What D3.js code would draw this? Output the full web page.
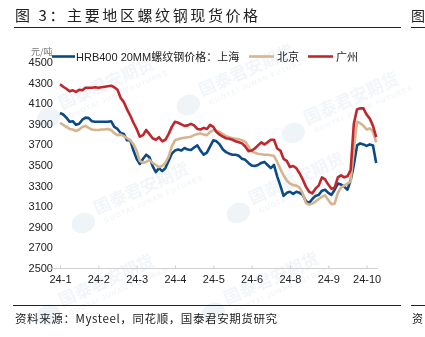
<!DOCTYPE html>
<html>
<head>
<meta charset="utf-8">
<script src="https://cdn.jsdelivr.net/npm/d3@7"></script>
<style>
  html, body { margin: 0; padding: 0; background: #fff; }
  svg { display: block; }
</style>
</head>
<body>
<svg id="chart" width="425" height="337"></svg>
<script>
// Rebar (HRB400 20mm) spot prices, yuan/ton, trading-day samples Jan–Oct 2024
const tickLabels = ["24-1", "24-2", "24-3", "24-4", "24-5", "24-6", "24-8", "24-9", "24-10"];
const tickStep = 12; // one axis label every 12 samples
const yTicks = [2500, 2700, 2900, 3100, 3300, 3500, 3700, 3900, 4100, 4300, 4500];

const seriesNames = ["HRB400 20MM螺纹钢价格：上海", "北京", "广州"];

const shanghai = [
  4005, 3990, 3960, 3920, 3925, 3890, 3900, 3940, 3960, 3955,
  3925, 3920, 3920, 3920, 3920, 3920, 3925, 3870, 3850, 3810,
  3800, 3740, 3740, 3640, 3560, 3510, 3560, 3600, 3575, 3490,
  3430, 3470, 3440, 3470, 3540, 3610, 3640, 3650, 3640, 3665,
  3650, 3645, 3670, 3690, 3640, 3600, 3620, 3680, 3740, 3730,
  3700, 3650, 3625, 3610, 3600, 3600, 3590, 3560, 3550, 3520,
  3495, 3490, 3500, 3520, 3530, 3500, 3470, 3500, 3390, 3300,
  3200, 3230, 3240, 3220, 3240, 3230, 3210, 3150, 3130, 3170,
  3200, 3210, 3250, 3260, 3230, 3210, 3260, 3320, 3310, 3290,
  3260, 3350, 3500, 3690, 3710, 3700, 3685, 3700, 3690, 3520
];

const beijing = [
  3910, 3890, 3870, 3850, 3845, 3830, 3845, 3870, 3880, 3860,
  3845, 3840, 3840, 3845, 3845, 3850, 3840, 3810, 3790, 3795,
  3780, 3760, 3740, 3700, 3640, 3540, 3520, 3530, 3550, 3520,
  3500, 3480, 3490, 3520, 3580, 3680, 3740, 3750, 3760, 3765,
  3770, 3775, 3790, 3800, 3805, 3795, 3790, 3820, 3840, 3830,
  3820, 3800, 3780, 3770, 3760, 3755, 3750, 3740, 3725, 3680,
  3630, 3620, 3610, 3605, 3600, 3600, 3595, 3590, 3530, 3460,
  3400, 3350, 3320, 3305, 3300, 3280, 3225, 3130, 3115, 3125,
  3145, 3170, 3190, 3205, 3160, 3120, 3125, 3230, 3280, 3300,
  3320, 3340, 3650, 3920, 3905, 3880, 3845, 3855, 3825, 3720
];

const guangzhou = [
  4285, 4260, 4240, 4215, 4225, 4210, 4230, 4225, 4250, 4250,
  4250, 4255, 4250, 4255, 4260, 4265, 4270, 4255, 4230, 4150,
  4110, 4040, 3980, 3910, 3850, 3775, 3790, 3840, 3800, 3760,
  3745, 3770, 3730, 3745, 3800, 3870, 3920, 3910, 3895, 3880,
  3885, 3900, 3885, 3850, 3845, 3860, 3850, 3890, 3870, 3820,
  3795, 3775, 3760, 3755, 3745, 3730, 3720, 3710, 3680, 3635,
  3640, 3660, 3690, 3720, 3700, 3720, 3745, 3745, 3660, 3640,
  3560, 3540, 3480, 3490, 3470, 3420, 3360, 3290, 3240, 3225,
  3270, 3300, 3380, 3360, 3310, 3270, 3280, 3380, 3400, 3380,
  3390, 3450, 3900, 4040, 4050, 4050, 3990, 3950, 3880, 3770
];

const colors = ["#0b4a86", "#d6b48e", "#c0272d"];
const seriesValues = [shanghai, beijing, guangzhou];

// Faint brand watermark tiles
const watermarkSpots = [[95, 95], [235, 82], [130, 200], [285, 190], [340, 110], [95, 292], [260, 290]];

const svg = d3.select("#chart");
const cjk = "'Noto Sans CJK SC', 'Noto Sans', sans-serif";
const latin = "'Liberation Sans', Arial, sans-serif";

// watermarks
const wm = svg.append("g").attr("class", "watermark").attr("opacity", 0.45);
watermarkSpots.forEach(([cx, cy]) => {
  const g = wm.append("g").attr("transform", `translate(${cx},${cy}) rotate(-24)`);
  g.append("ellipse").attr("cx", -52).attr("cy", 2).attr("rx", 12).attr("ry", 10)
    .attr("fill", "#dbe6f1");
  g.append("text").attr("x", -36).attr("y", 0).attr("font-family", cjk)
    .attr("font-size", 17).attr("font-weight", 700).attr("fill", "#e1e9f2")
    .text("国泰君安期货");
  g.append("text").attr("x", -32).attr("y", 11).attr("font-family", latin)
    .attr("font-size", 7).attr("font-weight", 700).attr("letter-spacing", 1)
    .attr("fill", "#e1e9f2")
    .text("GUOTAI JUNAN FUTURES");
});

// title and rules
svg.append("text").attr("x", 15).attr("y", 21).attr("font-family", cjk)
  .attr("font-size", 15).attr("letter-spacing", 2.6).attr("fill", "#222")
  .text("图 3：主要地区螺纹钢现货价格");
svg.append("text").attr("x", 411).attr("y", 21).attr("font-family", cjk)
  .attr("font-size", 14).attr("fill", "#222").text("图");
svg.append("line").attr("x1", 14).attr("x2", 401).attr("y1", 27.5).attr("y2", 27.5)
  .attr("stroke", "#222").attr("stroke-width", 1);
svg.append("line").attr("x1", 411).attr("x2", 425).attr("y1", 27.5).attr("y2", 27.5)
  .attr("stroke", "#222").attr("stroke-width", 1);
svg.append("line").attr("x1", 13).attr("x2", 401).attr("y1", 305.5).attr("y2", 305.5)
  .attr("stroke", "#222").attr("stroke-width", 1);
svg.append("line").attr("x1", 411).attr("x2", 425).attr("y1", 305.5).attr("y2", 305.5)
  .attr("stroke", "#222").attr("stroke-width", 1);
svg.append("text").attr("x", 15).attr("y", 323).attr("font-family", cjk)
  .attr("font-size", 11.5).attr("letter-spacing", 0.6).attr("fill", "#222")
  .text("资料来源：Mysteel，同花顺，国泰君安期货研究");
svg.append("text").attr("x", 412).attr("y", 323).attr("font-family", cjk)
  .attr("font-size", 11).attr("fill", "#222").text("资");

// scales
const n = shanghai.length;
const x = d3.scaleLinear().domain([0, tickStep * (tickLabels.length - 1)]).range([60, 366.6]);
const y = d3.scaleLinear().domain([2500, 4500]).range([268, 62]);

// y axis (labels only)
const yAxis = svg.append("g").attr("transform", "translate(56,0)")
  .call(d3.axisLeft(y).tickValues(yTicks).tickSize(0).tickPadding(3).tickFormat(d3.format("d")));
yAxis.select(".domain").remove();
yAxis.selectAll("text").attr("font-family", latin).attr("font-size", 11).attr("fill", "#222");

// x axis
const xAxis = svg.append("g").attr("transform", `translate(0,${y(2500)})`)
  .call(d3.axisBottom(x)
    .tickValues(tickLabels.map((_, i) => i * tickStep))
    .tickFormat((d, i) => tickLabels[i])
    .tickSizeInner(-3).tickSizeOuter(0).tickPadding(7));
xAxis.select(".domain").remove();
xAxis.insert("line", ":first-child")
  .attr("x1", x(0) - 12).attr("x2", x(n - 1) + 1.5).attr("y1", 0.5).attr("y2", 0.5)
  .attr("stroke", "#d0d0d0").attr("stroke-width", 1);
xAxis.selectAll(".tick line").attr("stroke", "#d0d0d0").attr("transform", "translate(0,0.5)");
xAxis.selectAll("text").attr("font-family", latin).attr("font-size", 11).attr("fill", "#222");

// lines
const line = d3.line().x((d, i) => x(i)).y(d => y(d));
seriesValues.forEach((vals, k) => {
  svg.append("path").datum(vals)
    .attr("fill", "none").attr("stroke", colors[k]).attr("stroke-width", 2.6)
    .attr("stroke-linejoin", "round").attr("stroke-linecap", "butt")
    .attr("d", line);
});

// unit label and legend
svg.append("text").attr("x", 31).attr("y", 54.5).attr("font-family", cjk)
  .attr("font-size", 9).attr("fill", "#777").text("元/吨");
const legendItems = [
  { x1: 52, x2: 75, tx: 76 },
  { x1: 249, x2: 274, tx: 277 },
  { x1: 308, x2: 333, tx: 336 }
];
legendItems.forEach((it, k) => {
  svg.append("line").attr("x1", it.x1).attr("x2", it.x2).attr("y1", 56.5).attr("y2", 56.5)
    .attr("stroke", colors[k]).attr("stroke-width", 2.6);
  svg.append("text").attr("x", it.tx).attr("y", 60.5).attr("font-family", k === 0 ? latin : cjk)
    .attr("font-size", 11).attr("fill", "#222")
    .call(t => {
      if (k === 0) {
        t.append("tspan").text("HRB400 20MM");
        t.append("tspan").attr("font-family", cjk).text("螺纹钢价格：上海");
      } else {
        t.text(seriesNames[k]);
      }
    });
});
</script>
</body>
</html>
